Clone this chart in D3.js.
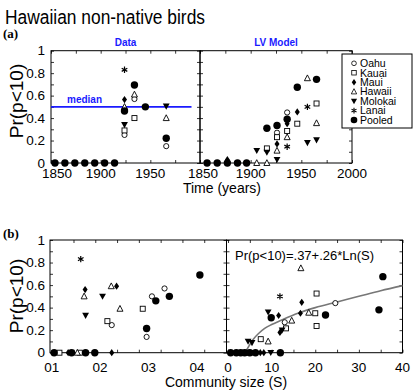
<!DOCTYPE html>
<html><head><meta charset="utf-8">
<script src="https://cdn.jsdelivr.net/npm/d3@7"></script>
<style>
body{margin:0;background:#fff}
svg{display:block}
text{font-family:"Liberation Sans",Arial,Helvetica,sans-serif;fill:#000}
</style>
</head><body>
<svg id="c" width="414" height="390"></svg>
<script>
// ---------- data ----------
const seriesNames = ["Oahu","Kauai","Maui","Hawaii","Molokai","Lanai","Pooled"];
const yTickLabels = [0,0.2,0.4,0.6,0.8,1];
const yMinorTicks = [0,0.1,0.2,0.3,0.4,0.5,0.6,0.7,0.8,0.9,1];
const yearTicksLeft = [1850,1900,1950];
const yearTicksRight = [1850,1900,1950,2000];
const yearMinor = [1850,1875,1900,1925,1950,1975,2000];
const sizeTicksLeft = [1,2,3,4];
const sizeMinorLeft = [1.45,1.9,2.35,2.8,3.25,3.7,4.15];
const sizeTicksRight = [0,10,20,30,40];
const sizeMinorRight = [0,5,10,15,20,25,30,35,40];
const medianValue = 0.5;

// panel (a) observed data: [series, year, Pr(p<10)]
const dataObserved = [
  ["Pooled",1854,0],["Pooled",1864,0],["Pooled",1874,0],["Pooled",1884,0],
  ["Pooled",1894,0],["Pooled",1904,0],["Pooled",1914,0],
  ["Oahu",1924,0.25],["Kauai",1924,0.29],["Molokai",1924,0.34],["Hawaii",1924,0.50],
  ["Maui",1924,0.565],["Lanai",1924,0.83],["Pooled",1924,0.463],
  ["Kauai",1934,0.40],["Oahu",1934,0.57],["Hawaii",1934,0.61],["Pooled",1934,0.695],
  ["Pooled",1945,0.50],
  ["Oahu",1966,0.15],["Hawaii",1966,0.40],["Molokai",1966,0.505],["Pooled",1966,0.22]
];
// panel (a) LV model
const dataModel = [
  ["Pooled",1857,0],["Pooled",1867,0],["Pooled",1877,0],["Maui",1877,0.03],
  ["Pooled",1887,0],["Pooled",1896,0],
  ["Hawaii",1906,0],["Molokai",1906,0.11],
  ["Hawaii",1916,0],["Molokai",1916,0.095],["Kauai",1916,0.13],["Pooled",1916,0.31],
  ["Molokai",1926,0.03],["Hawaii",1926,0.11],["Maui",1926,0.17],["Kauai",1926,0.23],
  ["Oahu",1926,0.27],["Pooled",1926,0.335],
  ["Lanai",1936,0.145],["Hawaii",1936,0.23],["Kauai",1936,0.285],["Maui",1936,0.35],
  ["Oahu",1936,0.45],["Pooled",1936,0.39],
  ["Kauai",1946,0.35],["Maui",1946,0.455],["Pooled",1946,0.675],
  ["Molokai",1956,0.18],["Lanai",1956,0.50],["Hawaii",1956,0.755],
  ["Molokai",1965,0.205],["Hawaii",1965,0.355],["Kauai",1965,0.53],["Pooled",1965,0.745]
];
// panel (b) left: [series, community size index, Pr]
const sizeLeft = [
  ["Pooled",1.05,0],["Kauai",1.16,0],["Maui",1.34,0],["Pooled",1.41,0],["Hawaii",1.53,0],
  ["Kauai",1.58,0],["Pooled",1.70,0],["Pooled",1.89,0],["Maui",2.24,0],
  ["Lanai",1.60,0.83],["Maui",1.69,0.56],["Hawaii",1.67,0.50],["Molokai",1.70,0.33],
  ["Molokai",2.05,0.50],["Hawaii",2.23,0.59],["Maui",2.34,0.59],["Kauai",2.15,0.28],
  ["Oahu",2.24,0.245],["Hawaii",2.41,0.39],["Kauai",2.88,0.39],["Oahu",3.07,0.50],
  ["Pooled",3.15,0.46],["Pooled",2.96,0.215],["Oahu",2.96,0.14],["Oahu",3.33,0.57],
  ["Pooled",3.43,0.50],["Pooled",4.06,0.69]
];
// panel (b) right: [series, S, Pr]
const sizeRight = [
  ["Pooled",0.6,0],["Pooled",1.9,0],["Pooled",2.9,0],["Pooled",3.8,0],["Kauai",4.5,0],
  ["Pooled",5.0,0],["Molokai",5.7,0],["Pooled",6.3,0],["Maui",7.4,0],["Maui",8.2,0],
  ["Molokai",9.8,0],["Pooled",12.0,0],
  ["Molokai",4.6,0.10],["Molokai",5.5,0.088],["Kauai",7.5,0.12],["Hawaii",9.2,0.10],
  ["Maui",11.9,0.18],["Molokai",12.4,0.20],["Kauai",13.3,0.216],["Oahu",13.0,0.27],
  ["Hawaii",14.6,0.285],["Molokai",9.2,0.36],["Pooled",9.9,0.31],["Maui",11.6,0.33],
  ["Maui",16.6,0.35],["Hawaii",18.5,0.355],["Kauai",20.0,0.35],["Kauai",20.3,0.237],
  ["Pooled",22.35,0.335],["Maui",16.9,0.447],["Oahu",24.6,0.44],["Lanai",11.9,0.50],
  ["Kauai",20.3,0.525],["Hawaii",16.7,0.75],["Pooled",34.6,0.38],["Pooled",35.5,0.675]
];
// fitted curve
const fitS = [3.9,4.5,5.8,7,8.4,10,12.3,16,20,25,30,35,40];
const fitPr = [0,0.04,0.12,0.17,0.215,0.25,0.29,0.35,0.40,0.45,0.50,0.55,0.595];

// ---------- layout ----------
const svg = d3.select("#c");
const aTop = 50.7, aBot = 163, bTop = 240, bBot = 352.7;
const yA = d3.scaleLinear().domain([0,1]).range([aBot,aTop]);
const yB = d3.scaleLinear().domain([0,1]).range([bBot,bTop]);
const xAL = d3.scaleLinear().domain([1850,2000]).range([51,200]);
const xAR = d3.scaleLinear().domain([1850,2000]).range([200,352]);
const xBL = d3.scaleLinear().domain([0.965,4.61]).range([50,226.5]);
const xBR = d3.scaleLinear().domain([-0.35,40]).range([226.5,402.5]);

function drawFrame(x, y, xt, yt) {
  const g = svg.append("g");
  const [x0,x1] = x.range(), [y0,y1] = y.range();
  const axes = [
    [d3.axisBottom(x).tickValues(xt), `translate(0,${y0})`],
    [d3.axisTop(x).tickValues(xt), `translate(0,${y1})`],
    [d3.axisLeft(y).tickValues(yt), `translate(${x0},0)`],
    [d3.axisRight(y).tickValues(yt), `translate(${x1},0)`]
  ];
  axes.forEach(([ax,tr]) => {
    const a = g.append("g").attr("transform",tr)
      .call(ax.tickSize(-3).tickFormat(""));
    a.select(".domain").remove();
    a.selectAll("line").attr("stroke","#000").attr("stroke-width",0.8);
  });
  g.append("rect").attr("x",x0).attr("y",y1).attr("width",x1-x0).attr("height",y0-y1)
    .attr("fill","none").attr("stroke","#000").attr("stroke-width",1);
}

function symbol(g, name, cx, cy, s) {
  s = s || 1;
  const t = g.append("g").attr("transform",`translate(${cx},${cy}) scale(${s})`);
  if (name === "Oahu") t.append("circle").attr("r",2.6).attr("fill","#fff").attr("stroke","#000").attr("stroke-width",0.9);
  else if (name === "Kauai") t.append("rect").attr("x",-2.5).attr("y",-2.5).attr("width",5).attr("height",5).attr("fill","#fff").attr("stroke","#000").attr("stroke-width",0.9);
  else if (name === "Maui") t.append("path").attr("d","M0,-3.6L2.5,0L0,3.6L-2.5,0Z").attr("fill","#000");
  else if (name === "Hawaii") t.append("path").attr("d","M0,-3.3L3,2.5L-3,2.5Z").attr("fill","#fff").attr("stroke","#000").attr("stroke-width",0.9);
  else if (name === "Molokai") t.append("path").attr("d","M-3.4,-2.7L3.4,-2.7L0,3.4Z").attr("fill","#000");
  else if (name === "Lanai") t.append("path").attr("d","M0,-3.2V3.2M-2.8,-1.6L2.8,1.6M-2.8,1.6L2.8,-1.6").attr("stroke","#000").attr("stroke-width",1.2);
  else if (name === "Pooled") t.append("circle").attr("r",3.7).attr("fill","#000");
}

function drawPoints(data, x, y) {
  const g = svg.append("g");
  const order = d => seriesNames.indexOf(d[0]);
  data.slice().sort((a,b)=>order(a)-order(b)).forEach(d => symbol(g, d[0], x(d[1]), y(d[2])));
}

function yLabels(y, xEnd) {
  const g = svg.append("g");
  yTickLabels.forEach(v => {
    const isInt = (v === 0 || v === 1);
    g.append("text").attr("x", xEnd).attr("y", y(v)).attr("dy","0.35em")
      .attr("text-anchor","end").attr("font-size",13.5).text(isInt ? String(v) : d3.format(".1f")(v));
  });
}
function xLabels(x, vals, yBase, fmt, shift) {
  const g = svg.append("g");
  vals.forEach((v,i) => {
    g.append("text").attr("x", x(v) + (shift && i===0 ? shift : 0)).attr("y", yBase)
      .attr("text-anchor","middle").attr("font-size",13.5).text(fmt(v));
  });
}

// title
svg.append("text").attr("x",5).attr("y",24).attr("font-size",20)
  .attr("textLength",200).attr("lengthAdjust","spacingAndGlyphs").text("Hawaiian non-native birds");
svg.append("text").attr("x",3).attr("y",38).attr("font-size",13).attr("font-weight","bold")
  .style("font-family","'Liberation Serif','Times New Roman',serif").text("(a)");
svg.append("text").attr("x",3).attr("y",238).attr("font-size",13).attr("font-weight","bold")
  .style("font-family","'Liberation Serif','Times New Roman',serif").text("(b)");

// panel (a)
drawFrame(xAL, yA, yearMinor, yMinorTicks);
drawFrame(xAR, yA, yearMinor, yMinorTicks);
svg.append("line").attr("x1",xAL(1850)).attr("x2",191.5).attr("y1",yA(medianValue)).attr("y2",yA(medianValue))
  .attr("stroke","#1a1aff").attr("stroke-width",1.8);
svg.append("text").attr("x",67).attr("y",103).attr("font-size",10).attr("font-weight","bold")
  .style("fill","#1a1aff").text("median");
svg.append("text").attr("x",(xAL.range()[0]+xAL.range()[1])/2).attr("y",46).attr("text-anchor","middle")
  .attr("font-size",10).attr("font-weight","bold").style("fill","#1a1aff").text("Data");
svg.append("text").attr("x",(xAR.range()[0]+xAR.range()[1])/2).attr("y",46).attr("text-anchor","middle")
  .attr("font-size",10).attr("font-weight","bold").style("fill","#1a1aff").text("LV Model");
drawPoints(dataObserved, xAL, yA);
drawPoints(dataModel, xAR, yA);
yLabels(yA, 45);
xLabels(xAL, yearTicksLeft, 178, d=>String(d), 6);
xLabels(xAR, yearTicksRight, 178, d=>String(d), 3);
svg.append("text").attr("x",222).attr("y",193).attr("text-anchor","middle").attr("font-size",14).text("Time (years)");
svg.append("text").attr("transform","translate(23,101) rotate(-90)").attr("text-anchor","middle")
  .attr("font-size",19).text("Pr(p<10)");

// legend
const lg = svg.append("g");
lg.append("rect").attr("x",342).attr("y",54).attr("width",70).attr("height",74)
  .attr("fill","#fff").attr("stroke","#000").attr("stroke-width",1);
seriesNames.forEach((n,i) => {
  const yy = 63.3 + i*9.45;
  symbol(lg, n, 354, yy, 0.9);
  lg.append("text").attr("x",360).attr("y",yy).attr("dy","0.36em").attr("font-size",10.5).text(n);
});

// panel (b)
drawFrame(xBL, yB, sizeMinorLeft, yMinorTicks);
drawFrame(xBR, yB, sizeMinorRight, yMinorTicks);
const line = d3.line().x((d,i)=>xBR(fitS[i])).y((d,i)=>yB(fitPr[i])).curve(d3.curveMonotoneX);
svg.append("path").attr("d", line(fitS)).attr("fill","none").attr("stroke","#777").attr("stroke-width",1.6);
drawPoints(sizeLeft, xBL, yB);
drawPoints(sizeRight, xBR, yB);
yLabels(yB, 45);
xLabels(xBL, sizeTicksLeft, 372, d=>"0"+d);
xLabels(xBR, sizeTicksRight, 372, d=>String(d));
svg.append("text").attr("x",235).attr("y",260).attr("font-size",13).text("Pr(p<10)=.37+.26*Ln(S)");
svg.append("text").attr("x",226).attr("y",387).attr("text-anchor","middle").attr("font-size",14).text("Community size (S)");
svg.append("text").attr("transform","translate(23,296) rotate(-90)").attr("text-anchor","middle")
  .attr("font-size",19).text("Pr(p<10)");
</script>
</body></html>
